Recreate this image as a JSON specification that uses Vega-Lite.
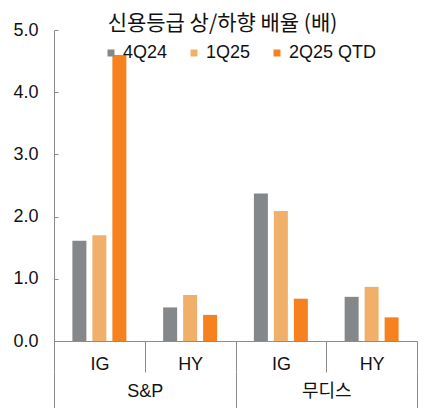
{
  "$schema": "https://vega.github.io/schema/vega-lite/v6.json",
  "autosize": {"type": "none"},
  "padding": {"left": 54, "top": 30, "right": 7, "bottom": 67},
  "width": 363,
  "height": 311,
  "config": {
    "font": "Liberation Sans, Noto Sans CJK KR",
    "view": {"stroke": null},
    "axis": {"labelFont": "Liberation Sans, Noto Sans CJK KR", "labelFontSize": 18, "labelColor": "#111111", "domainColor": "#8c8c8c", "tickColor": "#8c8c8c", "grid": false, "title": null}
  },
  "title": {"text": "신용등급 상/하향 배율 (배)", "fontSize": 21, "fontWeight": "normal", "color": "#111111", "font": "Noto Sans CJK KR", "anchor": "middle", "dx": -13, "offset": -13},
  "datasets": {
    "bars": [
      {"agency": "S&P", "grp": "S&P|IG", "series": "4Q24", "value": 1.61},
      {"agency": "S&P", "grp": "S&P|IG", "series": "1Q25", "value": 1.70},
      {"agency": "S&P", "grp": "S&P|IG", "series": "2Q25 QTD", "value": 4.60},
      {"agency": "S&P", "grp": "S&P|HY", "series": "4Q24", "value": 0.54},
      {"agency": "S&P", "grp": "S&P|HY", "series": "1Q25", "value": 0.74},
      {"agency": "S&P", "grp": "S&P|HY", "series": "2Q25 QTD", "value": 0.42},
      {"agency": "무디스", "grp": "무디스|IG", "series": "4Q24", "value": 2.37},
      {"agency": "무디스", "grp": "무디스|IG", "series": "1Q25", "value": 2.09},
      {"agency": "무디스", "grp": "무디스|IG", "series": "2Q25 QTD", "value": 0.68},
      {"agency": "무디스", "grp": "무디스|HY", "series": "4Q24", "value": 0.71},
      {"agency": "무디스", "grp": "무디스|HY", "series": "1Q25", "value": 0.87},
      {"agency": "무디스", "grp": "무디스|HY", "series": "2Q25 QTD", "value": 0.38}
    ]
  },
  "layer": [
    {
      "data": {"name": "bars"},
      "mark": {"type": "bar"},
      "encoding": {
        "x": {"field": "grp", "type": "nominal", "sort": ["S&P|IG", "S&P|HY", "무디스|IG", "무디스|HY"],
          "scale": {"paddingInner": 0, "paddingOuter": 0},
          "axis": {"labelAngle": 0, "labelExpr": "split(datum.label, '|')[1]", "tickBand": "extent", "tickSize": 31, "labelPadding": -17, "labelBaseline": "top"}},
        "xOffset": {"field": "series", "type": "nominal", "sort": ["4Q24", "1Q25", "2Q25 QTD"], "scale": {"paddingInner": 0.3, "paddingOuter": 0.92}},
        "y": {"field": "value", "type": "quantitative", "scale": {"domain": [0, 5], "nice": false},
          "axis": {"values": [0, 1, 2, 3, 4, 5], "format": ".1f", "tickSize": -4, "labelPadding": 20}},
        "color": {"field": "series", "type": "nominal", "sort": ["4Q24", "1Q25", "2Q25 QTD"],
          "scale": {"domain": ["4Q24", "1Q25", "2Q25 QTD"], "range": ["#85888a", "#f0b06a", "#f5821f"]},
          "legend": {"title": null, "orient": "none", "legendX": 48, "legendY": 14, "direction": "horizontal",
            "symbolType": "square", "symbolSize": 49, "symbolStrokeWidth": 0, "labelFontSize": 18, "labelColor": "#111111",
            "labelFont": "Liberation Sans", "columnPadding": 17, "labelOffset": 3, "padding": 0}}
      }
    },
    {
      "data": {"name": "bars"},
      "mark": {"type": "bar", "opacity": 0},
      "encoding": {
        "x": {"field": "agency", "type": "nominal", "sort": ["S&P", "무디스"],
          "scale": {"paddingInner": 0, "paddingOuter": 0},
          "axis": {"orient": "bottom", "offset": 31, "domain": false, "labelAngle": 0, "tickBand": "extent", "tickSize": 36, "labelPadding": -26, "labelBaseline": "top"}},
        "y": {"datum": 0, "type": "quantitative"}
      }
    },
    {
      "mark": {"type": "rule", "strokeDash": [3.5, 3.5], "strokeWidth": 3.5, "color": "#000000"},
      "encoding": {"y": {"datum": 1.04, "type": "quantitative"}}
    }
  ],
  "resolve": {"scale": {"x": "independent"}, "axis": {"x": "independent"}}
}
